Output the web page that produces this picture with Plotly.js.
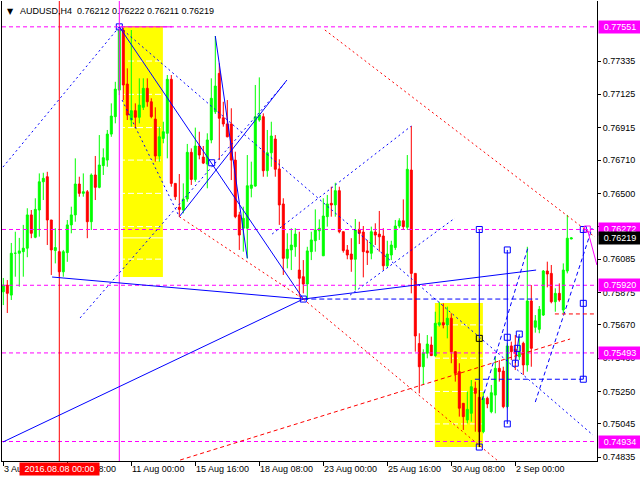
<!DOCTYPE html>
<html><head><meta charset="utf-8">
<script src="https://cdn.plot.ly/plotly-3.0.1.min.js"></script>
<style>html,body{margin:0;padding:0;background:#fff}#chart{width:640px;height:480px}</style>
</head><body><div id="chart"></div>
<script>
const headerText = 'AUDUSD,H4\u00a0 0.76212 0.76222 0.76211 0.76219';
const opens = [0.75879,0.75921,0.75858,0.76122,0.76122,0.76132,0.76154,0.76364,0.76223,0.76395,
0.76573,0.76605,0.76332,0.76139,0.76132,0.76005,0.76126,0.76301,0.76364,0.76559,
0.76500,0.76510,0.76321,0.76616,0.76538,0.76675,0.76710,0.76874,0.76984,0.77152,
0.77530,0.77190,0.76963,0.77022,0.76980,0.77043,0.77163,0.77078,0.76969,0.76736,
0.76847,0.76879,0.77220,0.76563,0.76412,0.76395,0.76464,0.76759,0.76588,0.76799,
0.76729,0.76685,0.76837,0.77015,0.77257,0.76977,0.76938,0.76938,0.76710,0.76364,
0.76280,0.76280,0.76532,0.76546,0.76963,0.76984,0.76643,0.76756,0.76843,0.76654,
0.76433,0.76090,0.76143,0.76163,0.76016,0.75974,0.75928,0.76132,0.76201,0.76264,
0.76106,0.76353,0.76437,0.76427,0.76517,0.76258,0.76143,0.76117,0.76084,0.76273,
0.76256,0.76137,0.76122,0.76256,0.76243,0.76231,0.76043,0.76111,0.76158,0.76294,
0.76327,0.76286,0.76647,0.75995,0.75552,0.75406,0.75491,0.75543,0.75476,0.75669,
0.75684,0.75669,0.75712,0.75501,0.75375,0.75175,0.75070,0.75112,0.75270,0.75213,
0.74996,0.75207,0.75122,0.75227,0.75396,0.75379,0.75154,0.75537,0.75516,0.75469,
0.75554,0.75417,0.75821,0.75655,0.75642,0.75732,0.76010,0.75995,0.75816,0.75869,
0.75764,0.76010,0.76212];
const highs = [0.75966,0.75953,0.76187,0.76258,0.76219,0.76301,0.76406,0.76395,0.76469,0.76626,
0.76630,0.76636,0.76332,0.76280,0.76132,0.76143,0.76332,0.76416,0.76721,0.76605,
0.76626,0.76521,0.76626,0.76736,0.76868,0.76784,0.76900,0.77068,0.77204,0.77551,
0.77545,0.77289,0.77531,0.77068,0.77226,0.77226,0.77226,0.77100,0.77043,0.76921,
0.76952,0.77247,0.77247,0.76563,0.76622,0.76563,0.76812,0.76784,0.76915,0.76889,
0.76799,0.76879,0.77226,0.77493,0.77321,0.77078,0.77089,0.77037,0.76763,0.76384,
0.76416,0.76742,0.76700,0.77184,0.77232,0.77005,0.76900,0.76952,0.76868,0.76715,
0.76469,0.76248,0.76280,0.76280,0.76258,0.76079,0.76163,0.76258,0.76399,0.76336,
0.76469,0.76490,0.76542,0.76567,0.76542,0.76258,0.76174,0.76217,0.76338,0.76321,
0.76294,0.76206,0.76290,0.76311,0.76389,0.76280,0.76201,0.76201,0.76332,0.76343,
0.76462,0.76742,0.76925,0.75995,0.75617,0.75516,0.75606,0.75596,0.75753,0.75816,
0.75806,0.75785,0.75743,0.75501,0.75428,0.75175,0.75248,0.75322,0.75312,0.75259,
0.75248,0.75217,0.75291,0.75469,0.75448,0.75406,0.75554,0.75564,0.75606,0.75596,
0.75564,0.76163,0.75921,0.75732,0.75789,0.76016,0.76069,0.76048,0.75901,0.75932,
0.76058,0.76364,0.76222];
const lows = [0.75795,0.75745,0.75827,0.75974,0.75911,0.75974,0.76097,0.76217,0.76217,0.76227,
0.76458,0.76174,0.75985,0.76058,0.75974,0.75974,0.76068,0.76248,0.76321,0.76479,
0.76479,0.76217,0.76269,0.76458,0.76532,0.76616,0.76668,0.76857,0.76942,0.77120,
0.77089,0.76963,0.76921,0.76911,0.76942,0.77026,0.77047,0.76974,0.76700,0.76700,
0.76816,0.76721,0.76542,0.76458,0.76353,0.76374,0.76447,0.76553,0.76573,0.76715,
0.76685,0.76532,0.76816,0.77001,0.76710,0.76921,0.76854,0.76584,0.76343,0.76143,
0.76132,0.76090,0.76475,0.76542,0.76952,0.76605,0.76605,0.76668,0.76605,0.76301,
0.75985,0.76027,0.76016,0.76100,0.75848,0.75869,0.75827,0.76079,0.76132,0.76206,
0.76106,0.76290,0.76353,0.76353,0.76248,0.76126,0.76084,0.76005,0.75890,0.76180,
0.75970,0.76048,0.76084,0.76174,0.76132,0.76016,0.76033,0.76079,0.76143,0.76280,
0.76269,0.76269,0.75869,0.75501,0.75238,0.75291,0.75459,0.75474,0.75469,0.75659,
0.75648,0.75585,0.75428,0.75312,0.75091,0.75007,0.75049,0.75059,0.74996,0.74899,
0.74986,0.75144,0.75112,0.75112,0.75312,0.75144,0.75144,0.75448,0.75385,0.75448,
0.75354,0.75375,0.75406,0.75621,0.75617,0.75726,0.75907,0.75806,0.75753,0.75816,
0.75743,0.75995,0.76211];
const closes = [0.75921,0.75869,0.76122,0.76122,0.76137,0.76154,0.76364,0.76248,0.76399,0.76573,
0.76595,0.76332,0.76143,0.76158,0.76005,0.76132,0.76301,0.76364,0.76559,0.76500,
0.76510,0.76321,0.76616,0.76538,0.76679,0.76725,0.76874,0.76988,0.77158,0.77530,
0.77184,0.76994,0.77022,0.76980,0.77057,0.77163,0.77078,0.76984,0.76736,0.76857,
0.76889,0.77220,0.76563,0.76479,0.76399,0.76464,0.76759,0.76588,0.76799,0.76742,
0.76691,0.76837,0.77100,0.77177,0.76974,0.76938,0.76857,0.76710,0.76353,0.76237,
0.76343,0.76548,0.76553,0.76984,0.76994,0.76643,0.76756,0.76862,0.76652,0.76427,
0.76090,0.76147,0.76174,0.76243,0.75964,0.75928,0.76137,0.76206,0.76269,0.76280,
0.76357,0.76433,0.76427,0.76517,0.76258,0.76139,0.76111,0.76084,0.76269,0.76248,
0.76132,0.76126,0.76258,0.76237,0.76226,0.76043,0.76117,0.76174,0.76294,0.76327,
0.76290,0.76652,0.75995,0.75600,0.75406,0.75494,0.75549,0.75476,0.75680,0.75684,
0.75669,0.75712,0.75501,0.75364,0.75144,0.75091,0.75137,0.75280,0.75238,0.74996,
0.75207,0.75171,0.75242,0.75396,0.75375,0.75154,0.75537,0.75501,0.75491,0.75501,
0.75417,0.75821,0.75522,0.75696,0.75768,0.76010,0.75991,0.75816,0.75869,0.75827,
0.76016,0.76217,0.76219];

const xTickIdx = [0,16,32,48,64,80,96,112,128];
const xTickText = ['3 Aug 16:00','8 Aug 08:00','11 Aug 00:00','15 Aug 16:00','18 Aug 08:00','23 Aug 00:00','25 Aug 16:00','30 Aug 08:00','2 Sep 00:00'];
const yTickVals = [0.77335,0.77125,0.76915,0.76710,0.76500,0.76290,0.76085,0.75875,0.75670,0.75460,0.75250,0.75045,0.74835];
const levelPrices = [0.77551,0.76272,0.75920,0.75493,0.74934];
const bidPrice = 0.76219;
const dateLineIdx = 14, dateLineText = '2016.08.08 00:00';
const periodLineIdx = 29;

// analysis objects, in bar index / price units
const boxes = [[29.9,0.77556,39.9,0.75972],[107.9,0.75808,119.9,0.74899]];
const trendLines = [
 [-0.08,0.76666,29,0.77551,'#0000ff','2px,3px'],
 [29,0.77551,147.4,0.74975,'#0000ff','2px,3px'],
 [29.7,0.77089,44,0.76353,'#0000ff','2px,3px'],
 [19.2,0.75714,70.4,0.77196,'#0000ff','2px,3px'],
 [67.2,0.76243,102,0.76925,'#0000ff','2px,3px'],
 [86.7,0.75858,112.9,0.76344,'#0000ff','2px,3px'],
 [29,0.77551,75,0.75833,'#0000ff','solid'],
 [44,0.76353,70.9,0.77215,'#0000ff','solid'],
 [53,0.77493,61,0.76090,'#0000ff','solid'],
 [12.2,0.75972,75,0.75833,'#0000ff','solid'],
 [75,0.75833,133.2,0.76016,'#0000ff','solid'],
 [-0.08,0.74931,75,0.75833,'#0000ff','solid'],
 [119,0.76272,119,0.75585,'#0000ff','solid'],
 [119,0.75585,119,0.74899,'#000000','solid'],
 [126,0.76143,126,0.75045,'#0000ff','solid'],
 [145,0.76272,145,0.75327,'#0000ff','solid'],
 [128,0.75428,128.5,0.75522,'#0000ff','solid'],
 [128.5,0.75522,129,0.75612,'#0000ff','solid'],
 [75,0.75833,133.7,0.75833,'#0000ff','5px,3px'],
 [117.9,0.75327,145,0.75327,'#0000ff','5px,3px'],
 [119.7,0.75196,131.2,0.76161,'#0000ff','4px,3px'],
 [133,0.75183,147.2,0.76281,'#0000ff','4px,3px'],
 [44,0.76353,75,0.75833,'#ff0000','2px,3px'],
 [75,0.75833,123.4,0.74817,'#ff0000','2px,3px'],
 [80.4,0.77531,147.9,0.76225,'#ff0000','2px,3px'],
 [44.2,0.74817,141.7,0.75581,'#ff0000','4px,3px'],
 [137.9,0.75739,147.9,0.75739,'#ff0000','4px,3px'],
 [146,0.76275,148.4,0.76048,'#ff00ff','solid'],
 [29,0.77551,42.2,0.77551,'#ff00ff','solid']
];
const anchorX = [29,52.1,75,119,119,126,126,126,145,145,145,128,128.5,129,119,146];
const anchorY = [0.77551,0.76693,0.75833,0.76272,0.74899,0.76143,0.75592,0.75045,0.76272,0.75806,0.75327,0.75428,0.75522,0.75612,0.75585,0.76275];
const anchorColor = ['#0000ff','#0000ff','#0000ff','#0000ff','#0000ff','#0000ff','#0000ff','#0000ff','#0000ff','#0000ff','#0000ff','#0000ff','#0000ff','#0000ff','#000000','#ff00ff'];

const FONT = 'Liberation Sans, Arial, sans-serif';
const idx = opens.map((_, i) => i);
const XR = [-0.325, 148.425];

const shapes = [];
boxes.forEach(b => shapes.push({type:'rect', xref:'x', yref:'y', x0:b[0], y0:b[1], x1:b[2], y1:b[3], fillcolor:'#ffff00', line:{width:0}, layer:'below'}));
// white chart grid (only visible over the yellow boxes) and white bid line
yTickVals.forEach(v => shapes.push({type:'line', xref:'x', yref:'y', x0:XR[0], x1:XR[1], y0:v, y1:v, line:{color:'#ffffff', width:1, dash:'6px,3px'}, layer:'below'}));
shapes.push({type:'line', xref:'x', yref:'y', x0:XR[0], x1:XR[1], y0:bidPrice, y1:bidPrice, line:{color:'#ffffff', width:1}, layer:'below'});
levelPrices.forEach(p => shapes.push({type:'line', xref:'x', yref:'y', x0:XR[0], x1:XR[1], y0:p, y1:p, line:{color:'#ff00ff', width:1, dash:'4px,3px'}, layer:'above'}));
shapes.push({type:'line', xref:'x', yref:'paper', x0:dateLineIdx, x1:dateLineIdx, y0:0, y1:1, line:{color:'#ff0000', width:1}, layer:'above'});
shapes.push({type:'line', xref:'x', yref:'paper', x0:periodLineIdx, x1:periodLineIdx, y0:0, y1:1, line:{color:'#ff00ff', width:1}, layer:'above'});
trendLines.forEach(t => shapes.push({type:'line', xref:'x', yref:'y', x0:t[0], y0:t[1], x1:t[2], y1:t[3], line:{color:t[4], width:1, dash:t[5]}, layer:'above'}));

const annotations = [];
annotations.push({xref:'paper', yref:'paper', x:0, y:1, xanchor:'left', yanchor:'middle', xshift:3, yshift:-10, text:'\u25BC', showarrow:false, font:{family:'DejaVu Sans', size:8, color:'#000'}});
annotations.push({xref:'paper', yref:'paper', x:0, y:1, xanchor:'left', yanchor:'middle', xshift:16, yshift:-10, text:headerText, showarrow:false, font:{family:FONT, size:9, color:'#000'}});
xTickIdx.forEach((v, k) => annotations.push({xref:'x', yref:'paper', x:v, y:0, xanchor:'left', yanchor:'top', xshift:-1, yshift:-1, text:xTickText[k], showarrow:false, font:{family:FONT, size:9, color:'#000'}}));
annotations.push({xref:'x', yref:'paper', x:dateLineIdx, y:0, xanchor:'center', yanchor:'top', yshift:-1, text:dateLineText, showarrow:false, bgcolor:'#ff0000', borderpad:1, width:77, font:{family:FONT, size:9, color:'#fff'}});
levelPrices.forEach(p => annotations.push({xref:'paper', yref:'y', x:1, y:p, xanchor:'left', yanchor:'middle', xshift:1, text:p.toFixed(5), showarrow:false, bgcolor:'#ff00ff', borderpad:1, width:40, font:{family:FONT, size:9, color:'#fff'}}));
annotations.push({xref:'paper', yref:'y', x:1, y:bidPrice, xanchor:'left', yanchor:'middle', xshift:1, text:bidPrice.toFixed(5), showarrow:false, bgcolor:'#000000', borderpad:1, width:40, font:{family:FONT, size:9, color:'#fff'}});

const traces = [
 {type:'candlestick', x:idx, open:opens, high:highs, low:lows, close:closes,
  increasing:{line:{color:'#00ff00', width:1}, fillcolor:'#00ff00'},
  decreasing:{line:{color:'#ff0000', width:1}, fillcolor:'#ff0000'},
  whiskerwidth:0, hoverinfo:'skip', showlegend:false},
 {type:'scatter', mode:'markers', x:anchorX, y:anchorY, hoverinfo:'skip', showlegend:false,
  marker:{symbol:'square-open', size:6, color:anchorColor, line:{width:1}}}
];

const layout = {
 width:640, height:480, margin:{l:2, r:43, t:1, b:19},
 paper_bgcolor:'#fff', plot_bgcolor:'#fff', showlegend:false,
 xaxis:{range:XR, showgrid:false, zeroline:false, showline:true, linecolor:'#000', linewidth:1,
   ticks:'outside', ticklen:4, tickcolor:'#000', tickvals:xTickIdx, showticklabels:false,
   rangeslider:{visible:false}, fixedrange:true},
 yaxis:{side:'right', range:[0.74811,0.77714], tickvals:yTickVals, ticktext:yTickVals.map(v=>v.toFixed(5)),
   ticks:'outside', ticklen:3, tickcolor:'#000', showline:true, linecolor:'#000', linewidth:1, mirror:true,
   showgrid:false, zeroline:false,
   tickfont:{family:FONT, size:9, color:'#000'}, fixedrange:true},
 shapes:shapes, annotations:annotations, boxgap:0.3, boxgroupgap:0.3
};
Plotly.newPlot('chart', traces, layout, {staticPlot:true, displayModeBar:false});
</script></body></html>
